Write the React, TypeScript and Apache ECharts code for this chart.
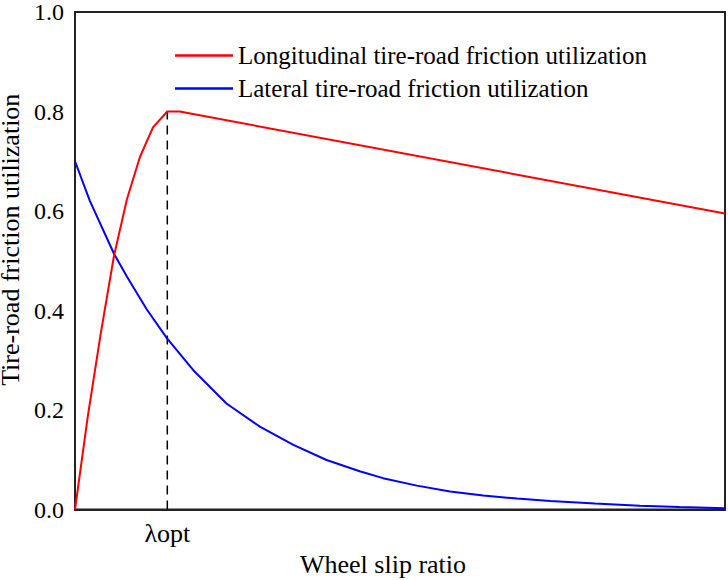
import React, { useEffect, useRef, useState } from "react";
import * as echarts from "echarts";

const LONG_NAME = "Longitudinal tire-road friction utilization";
const LAT_NAME = "Lateral tire-road friction utilization";

const longitudinal: [number, number][] = [
  [0, 0], [0.02, 0.19], [0.04, 0.357], [0.06, 0.51], [0.08, 0.624],
  [0.1, 0.709], [0.12, 0.768], [0.142, 0.8], [0.161, 0.8], [1.0, 0.595],
];

const lateral: [number, number][] = [
  [0, 0.7], [0.023, 0.62], [0.06, 0.514], [0.08, 0.468], [0.11, 0.403], [0.141, 0.345],
  [0.182, 0.28], [0.233, 0.213], [0.285, 0.166], [0.336, 0.13], [0.387, 0.0995],
  [0.438, 0.077], [0.474, 0.063], [0.526, 0.048], [0.577, 0.036], [0.628, 0.028],
  [0.68, 0.022], [0.731, 0.017], [0.8, 0.012], [0.869, 0.0076], [0.93, 0.005],
  [1.0, 0.0025],
];

const LAMBDA_OPT = 0.142;
const LAMBDA_LABEL = "λopt";
const Y_TICKS = [0, 0.2, 0.4, 0.6, 0.8, 1.0];
const Y_TITLE = "Tire-road friction utilization";
const X_TITLE = "Wheel slip ratio";

const FONT = "Liberation Serif";

export default function App() {
  const ref = useRef<HTMLDivElement>(null);
  const [, setTick] = useState(0);
  useEffect(() => {
    if (!ref.current) return;
    const chart = echarts.init(ref.current, undefined, { renderer: "svg" });
    const peak = longitudinal.find((p) => Math.abs(p[0] - LAMBDA_OPT) < 1e-9)?.[1] ?? 0.8;
    chart.setOption({
      animation: false,
      backgroundColor: "#fff",
      textStyle: { fontFamily: FONT },
      grid: {
        left: 75, right: 3, top: 12, bottom: 70.5,
        containLabel: false,
        outerBoundsMode: "none",
        show: true, borderColor: "#222", borderWidth: 2, backgroundColor: "transparent",
      },
      legend: {
        data: [LONG_NAME, LAT_NAME],
        orient: "vertical",
        left: 170,
        top: 38,
        icon: "rect",
        itemWidth: 58,
        itemHeight: 2.5,
        itemGap: 8,
        textStyle: { fontFamily: FONT, fontSize: 25, color: "#000" },
      },
      xAxis: {
        type: "value",
        min: 0,
        max: 1,
        name: X_TITLE,
        nameLocation: "middle",
        nameGap: 40,
        nameTextStyle: { fontFamily: FONT, fontSize: 26, color: "#000", padding: [0, 34, 0, 0] },
        splitLine: { show: false },
        axisLine: { show: true, lineStyle: { color: "#222", width: 2 } },
        axisTick: { show: false },
        axisLabel: {
          customValues: [LAMBDA_OPT],
          formatter: () => LAMBDA_LABEL,
          fontFamily: FONT, fontSize: 26, color: "#000",
          margin: 11,
        },
      },
      yAxis: {
        type: "value",
        min: Y_TICKS[0],
        max: Y_TICKS[Y_TICKS.length - 1],
        interval: 0.2,
        name: Y_TITLE,
        nameLocation: "middle",
        nameGap: 48,
        nameTextStyle: { fontFamily: FONT, fontSize: 26, color: "#000", padding: [0, 0, 0, 42] },
        splitLine: { show: false },
        axisLine: { show: true, lineStyle: { color: "#222", width: 2 } },
        axisTick: { show: false },
        axisLabel: {
          formatter: (v: number) => v.toFixed(1),
          fontFamily: FONT, fontSize: 24, color: "#000",
          margin: 11,
        },
      },
      series: [
        {
          name: "lambda-opt",
          type: "line",
          data: [[LAMBDA_OPT, 0], [LAMBDA_OPT, peak]],
          symbol: "none",
          silent: true,
          lineStyle: { color: "#000", width: 1.5, type: [9, 6] },
          z: 1,
        },
        {
          name: LONG_NAME, type: "line", data: longitudinal, symbol: "none",
          color: "#ff0000", lineStyle: { color: "#ff0000", width: 2 }, z: 3,
        },
        {
          name: LAT_NAME, type: "line", data: lateral, symbol: "none",
          color: "#0000ff", lineStyle: { color: "#0000ff", width: 2 }, z: 2,
        },
      ],
    });
    // force style recalculation of the SVG texts (helps the serif face take effect)
    void ref.current.querySelectorAll("text").length;
    void ref.current.innerHTML.length;
    setTick((t) => t + 1);
    return () => chart.dispose();
  }, []);
  return <div ref={ref} style={{ width: 728, height: 580, position: "absolute", left: 0, top: 0 }} />;
}
